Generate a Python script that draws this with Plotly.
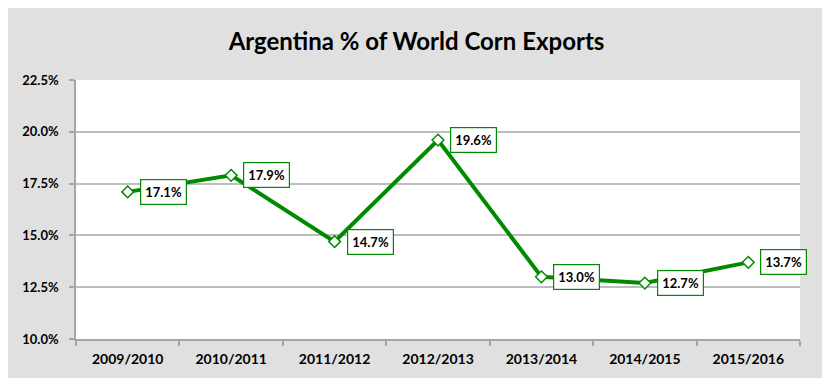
import plotly.graph_objects as go

seasons = ["2009/2010", "2010/2011", "2011/2012", "2012/2013", "2013/2014", "2014/2015", "2015/2016"]
share_pct = [17.1, 17.9, 14.7, 19.6, 13.0, 12.7, 13.7]
y_ticks = [10.0, 12.5, 15.0, 17.5, 20.0, 22.5]

GREEN = "#008a00"
GRAY_BG = "#e0e0e0"
GRID = "#bdbdbd"
FONT = "Lato, Liberation Sans, Arial, sans-serif"

fig = go.Figure()
fig.add_trace(go.Scatter(
    x=seasons, y=share_pct, mode="lines+markers",
    line=dict(color=GREEN, width=4),
    marker=dict(symbol="diamond", size=9, color="white", line=dict(color=GREEN, width=1.5)),
    hoverinfo="skip", showlegend=False,
))

for s, v in zip(seasons, share_pct):
    fig.add_annotation(
        x=s, y=v, xref="x", yref="y", text=f"<b>{v:.1f}%</b>",
        showarrow=False, xanchor="left", yanchor="middle", xshift=12,
        bgcolor="white", bordercolor=GREEN, borderwidth=1.2, borderpad=4,
        font=dict(family=FONT, size=13, color="black"),
    )

# gray panel and white plot area
fig.add_shape(type="rect", xref="paper", yref="paper",
              x0=(8 - 76) / 724, x1=(822 - 76) / 724,
              y0=(339 - 378) / 259, y1=(339 - 8) / 259,
              fillcolor=GRAY_BG, line=dict(width=0), layer="below")
fig.add_shape(type="rect", xref="paper", yref="paper", x0=0, x1=1, y0=0, y1=1,
              fillcolor="white", line=dict(width=0), layer="below")

fig.update_layout(
    width=833, height=390,
    margin=dict(l=76, r=33, t=80, b=51),
    paper_bgcolor="white", plot_bgcolor="white",
    title=dict(text="<b>Argentina % of World Corn Exports</b>",
               x=0.5, xanchor="center", y=1 - 42 / 390, yanchor="middle",
               font=dict(family=FONT, size=24, color="black")),
    font=dict(family=FONT, color="black"),
)
fig.update_layout(title_xref="container")

fig.update_xaxes(
    type="category", range=[-0.5, len(seasons) - 0.5],
    showgrid=False, showline=True, linecolor="#a6a6a6", linewidth=1.5,
    ticks="outside", tickson="boundaries", ticklen=5, tickcolor="#a6a6a6", tickwidth=1.5,
    tickfont=dict(family=FONT, size=14, color="black"), ticklabelstandoff=6,
    tickprefix="<b>", ticksuffix="</b>",
)
fig.update_yaxes(
    range=[10, 22.5], tickvals=y_ticks,
    ticktext=[f"<b>{t:.1f}%</b>" for t in y_ticks],
    showgrid=True, gridcolor=GRID, gridwidth=2,
    showline=True, linecolor="#a6a6a6", linewidth=1.5,
    ticks="outside", ticklen=5, tickcolor="#a6a6a6", tickwidth=1.5,
    tickfont=dict(family=FONT, size=13, color="black"), ticklabelstandoff=8,
    zeroline=False,
)

fig.write_html("out.html", config={"displayModeBar": False},
               post_script="document.body.style.margin='0';")
